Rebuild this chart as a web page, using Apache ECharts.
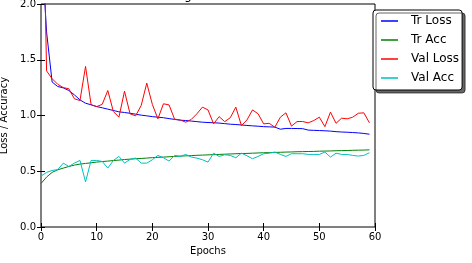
<!DOCTYPE html>
<html>
<head>
<meta charset="utf-8">
<script src="https://cdn.jsdelivr.net/npm/echarts@6/dist/echarts.min.js"></script>
<style>
  html, body { margin: 0; padding: 0; background: #fff; }
  #chart { width: 472px; height: 263px; }
</style>
</head>
<body>
<div id="chart"></div>
<script>
// x positions (epoch index)
var epochs = Array.from({ length: 60 }, function(_, i) { return i; });

var trLoss = [2.6, 1.75, 1.30, 1.26, 1.248, 1.224, 1.185, 1.14, 1.11, 1.096,
    1.08, 1.069, 1.057, 1.045, 1.033, 1.027, 1.02, 1.012, 1.003, 0.997,
    0.99, 0.985, 0.98, 0.972, 0.965, 0.958, 0.955, 0.95, 0.945, 0.94,
    0.937, 0.935, 0.932, 0.927, 0.922, 0.919, 0.915, 0.911, 0.907, 0.904,
    0.9, 0.898, 0.896, 0.877, 0.884, 0.884, 0.883, 0.882, 0.869, 0.867,
    0.865, 0.863, 0.86, 0.855, 0.852, 0.85, 0.847, 0.844, 0.839, 0.832];

var trAcc = [0.39, 0.448, 0.49, 0.513, 0.528, 0.543, 0.555, 0.564, 0.57, 0.576,
    0.582, 0.587, 0.591, 0.596, 0.6, 0.605, 0.609, 0.612, 0.615, 0.618,
    0.622, 0.625, 0.627, 0.63, 0.633, 0.636, 0.638, 0.64, 0.643, 0.645,
    0.647, 0.649, 0.651, 0.653, 0.655, 0.657, 0.659, 0.66, 0.662, 0.664,
    0.666, 0.667, 0.669, 0.67, 0.672, 0.673, 0.675, 0.676, 0.677, 0.678,
    0.68, 0.681, 0.682, 0.684, 0.685, 0.686, 0.688, 0.689, 0.69, 0.692];

var valLoss = [4.0, 1.40, 1.33, 1.28, 1.25, 1.24, 1.15, 1.134, 1.44, 1.096,
    1.08, 1.10, 1.224, 1.036, 0.985, 1.218, 1.015, 0.997, 1.09, 1.29,
    1.10, 0.97, 1.105, 1.095, 0.967, 0.96, 0.94, 0.965, 1.015, 1.075,
    1.05, 0.925, 0.99, 0.945, 0.98, 1.075, 0.91, 0.96, 1.05, 1.015,
    0.925, 0.93, 0.895, 0.985, 1.024, 0.905, 0.946, 0.946, 0.934, 0.955,
    0.985, 0.90, 1.03, 0.93, 0.976, 0.97, 0.985, 1.02, 1.024, 0.934];

var valAcc = [0.457, 0.49, 0.507, 0.514, 0.573, 0.543, 0.573, 0.597, 0.405, 0.597,
    0.597, 0.588, 0.528, 0.597, 0.633, 0.573, 0.606, 0.618, 0.573, 0.573,
    0.603, 0.642, 0.621, 0.591, 0.642, 0.633, 0.651, 0.627, 0.618, 0.603,
    0.582, 0.662, 0.633, 0.648, 0.642, 0.621, 0.662, 0.639, 0.612, 0.633,
    0.657, 0.662, 0.672, 0.651, 0.633, 0.657, 0.657, 0.657, 0.651, 0.651,
    0.651, 0.672, 0.627, 0.662, 0.651, 0.651, 0.642, 0.636, 0.642, 0.666];

var seriesNames = ['Tr Loss', 'Tr Acc', 'Val Loss', 'Val Acc'];
var seriesColors = ['#0000ff', '#008000', '#ff0000', '#00bfbf'];
var seriesValues = [trLoss, trAcc, valLoss, valAcc];

var FONT = 'DejaVu Sans';

function pairs(vals) {
    return vals.map(function(v, i) { return [epochs[i], v]; });
}

var tickStyle = { show: true, inside: true, length: 4, lineStyle: { color: '#000', width: 1 } };

var option = {
    animation: false,
    // title sits above the canvas, only the descender peeks in
    title: {
        text: 'Training and Validation',
        left: 208,
        top: -15,
        textAlign: 'center',
        textStyle: { fontFamily: FONT, fontSize: 12, fontWeight: 'normal', color: '#000' }
    },
    grid: {
        left: 41, right: 97, top: 4, bottom: 36,
        outerBoundsMode: 'none',
        containLabel: false,
        show: true, borderColor: '#000', borderWidth: 1, backgroundColor: 'transparent'
    },
    legend: {
        orient: 'vertical',
        left: 373, top: 10,
        data: seriesNames,
        icon: 'rect',
        itemWidth: 17, itemHeight: 1.5,
        itemGap: 5,
        padding: [4, 3, 5, 8],
        backgroundColor: '#fff',
        borderColor: '#000', borderWidth: 1, borderRadius: 3,
        shadowColor: 'rgba(0,0,0,0.6)', shadowBlur: 0, shadowOffsetX: 3, shadowOffsetY: 3,
        textStyle: { fontFamily: FONT, fontSize: 12, color: '#000', lineHeight: 14, padding: [0, 0, 0, 8] }
    },
    xAxis: [{
        type: 'value', min: 0, max: 60, interval: 10,
        name: 'Epochs', nameLocation: 'middle', nameGap: 17,
        nameTextStyle: { fontFamily: FONT, fontSize: 10, color: '#000' },
        axisLine: { show: false },
        axisTick: tickStyle,
        axisLabel: { fontFamily: FONT, fontSize: 10, color: '#000', margin: 5 },
        splitLine: { show: false }
    }, {
        type: 'value', min: 0, max: 60, interval: 10, position: 'top',
        axisLine: { show: false }, axisTick: tickStyle,
        axisLabel: { show: false }, splitLine: { show: false }
    }],
    yAxis: [{
        type: 'value', min: 0, max: 2, interval: 0.5,
        name: 'Loss / Accuracy', nameLocation: 'middle', nameGap: 24,
        nameTextStyle: { fontFamily: FONT, fontSize: 10, color: '#000' },
        axisLine: { show: false },
        axisTick: tickStyle,
        axisLabel: {
            fontFamily: FONT, fontSize: 10, color: '#000', margin: 5,
            formatter: function(v) { return v.toFixed(1); }
        },
        splitLine: { show: false }
    }, {
        type: 'value', min: 0, max: 2, interval: 0.5, position: 'right',
        axisLine: { show: false }, axisTick: tickStyle,
        axisLabel: { show: false }, splitLine: { show: false }
    }],
    series: seriesNames.map(function(name, k) {
        return {
            name: name,
            type: 'line',
            xAxisIndex: 0, yAxisIndex: 0,
            data: pairs(seriesValues[k]),
            symbol: 'none',
            clip: true,
            color: seriesColors[k],
            lineStyle: { color: seriesColors[k], width: 1 }
        };
    })
};

var myChart = echarts.init(document.getElementById('chart'));
myChart.setOption(option);
</script>
</body>
</html>
